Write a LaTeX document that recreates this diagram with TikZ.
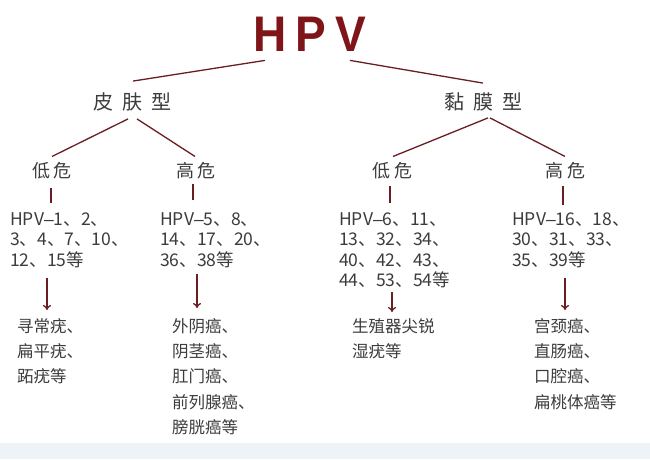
\documentclass[tikz,border=0pt]{standalone}
\usepackage{fontspec}
\setmainfont{Noto Sans CJK SC}
\newfontfamily\hpvfont{Liberation Sans}
\usetikzlibrary{arrows.meta}
\definecolor{hpvred}{HTML}{7F1518}
\definecolor{linkred}{HTML}{6A1E24}
\definecolor{txtgray}{HTML}{3C3C3C}
\definecolor{bandblue}{HTML}{EEF3F8}
\newcommand{\hpvdash}{{\hpvfont –}}

\begin{document}
\begin{tikzpicture}[x=1pt,y=-1pt,
  link/.style={draw=linkred,line width=1.3pt},
  arr/.style={link,-{To[length=5pt,width=8pt]}},
  typelbl/.style={inner sep=0pt,text=txtgray,font=\fontsize{20}{20}\selectfont},
  risklbl/.style={inner sep=0pt,text=txtgray,font=\fontsize{18}{18}\selectfont},
  typelist/.style={anchor=north west,inner sep=0pt,align=left,text=txtgray,
    font=\fontsize{17.5}{20.5}\selectfont},
  disease/.style={anchor=north west,inner sep=0pt,align=left,text=txtgray,
    font=\fontsize{16.5}{25.3}\selectfont}]
  % canvas and bottom band
  \useasboundingbox (0,0) rectangle (650,459);
  \fill[white] (0,0) rectangle (650,459);
  \fill[bandblue] (0,443) rectangle (650,459);
  % root
  \node[inner sep=0pt,text=hpvred,xscale=0.92,font=\hpvfont\fontsize{50}{50}\selectfont\bfseries]
    (hpv) at (310,34) {H\kern10pt P\kern10pt V};
  % types
  \node[typelbl] (skin) at (132,101.5) {皮\kern9pt 肤\kern9pt 型};
  \node[typelbl] (muc) at (483,101.5) {黏\kern9pt 膜\kern9pt 型};
  % risk levels
  \node[risklbl] (lowL) at (52,171) {低\kern4pt 危};
  \node[risklbl] (highL) at (196,171) {高\kern4pt 危};
  \node[risklbl] (lowR) at (392,171) {低\kern4pt 危};
  \node[risklbl] (highR) at (565,171) {高\kern4pt 危};
  % virus types
  \node[typelist] (blk1) at (10,212) {HPV\hpvdash1、2、\\3、4、7、10、\\12、15等};
  \node[typelist] (blk2) at (160,212) {HPV\hpvdash5、8、\\14、17、20、\\36、38等};
  \node[typelist] (blk3) at (339,212) {HPV\hpvdash6、11、\\13、32、34、\\40、42、43、\\44、53、54等};
  \node[typelist] (blk4) at (512,212) {HPV\hpvdash16、18、\\30、31、33、\\35、39等};
  % diseases
  \node[disease] (out1) at (17,318) {寻常疣、\\扁平疣、\\跖疣等};
  \node[disease] (out2) at (172,318) {外阴癌、\\阴茎癌、\\肛门癌、\\前列腺癌、\\膀胱癌等};
  \node[disease] (out3) at (352,318) {生殖器尖锐\\湿疣等};
  \node[disease] (out4) at (534,318) {宫颈癌、\\直肠癌、\\口腔癌、\\扁桃体癌等};
  % tree lines
  \draw[link] ([xshift=-45pt,yshift=-9pt]hpv.south) -- ([xshift=1pt,yshift=11pt]skin.north);
  \draw[link] ([xshift=40pt,yshift=-9pt]hpv.south) -- ([yshift=9pt]muc.north);
  \draw[link] ([xshift=-4pt,yshift=-8pt]skin.south) -- ([yshift=6pt]lowL.north);
  \draw[link] ([xshift=5pt,yshift=-8pt]skin.south) -- ([xshift=-1pt,yshift=6pt]highL.north);
  \draw[link] ([xshift=5pt,yshift=-7pt]muc.south) -- ([xshift=1pt,yshift=6pt]lowR.north);
  \draw[link] ([xshift=7pt,yshift=-7pt]muc.south) -- ([yshift=6pt]highR.north);
  \draw[link] ([xshift=-1pt,yshift=-8pt]lowL.south) -- ([xshift=-1pt,yshift=9pt]lowL.south |- blk1.north);
  \draw[link] ([xshift=-3pt,yshift=-4pt]highL.south) -- ([xshift=-3pt,yshift=12pt]highL.south |- blk2.north);
  \draw[link] ([xshift=-2pt,yshift=-6pt]lowR.south) -- ([xshift=-2pt,yshift=9pt]lowR.south |- blk3.north);
  \draw[link] ([xshift=-2pt,yshift=-6pt]highR.south) -- ([xshift=-2pt,yshift=7pt]highR.south |- blk4.north);
  % arrows
  \draw[arr] ([xshift=37pt,yshift=-10pt]blk1.south west) -- ([xshift=37pt,yshift=8pt]blk1.south west |- out1.north);
  \draw[arr] ([xshift=37pt,yshift=-6pt]blk2.south west) -- ([xshift=37pt,yshift=10pt]blk2.south west |- out2.north);
  \draw[arr] ([xshift=53pt,yshift=-4pt]blk3.south west) -- ([xshift=53pt,yshift=6pt]blk3.south west |- out3.north);
  \draw[arr] ([xshift=53pt,yshift=-10pt]blk4.south west) -- ([xshift=53pt,yshift=8pt]blk4.south west |- out4.north);
\end{tikzpicture}
\end{document}
